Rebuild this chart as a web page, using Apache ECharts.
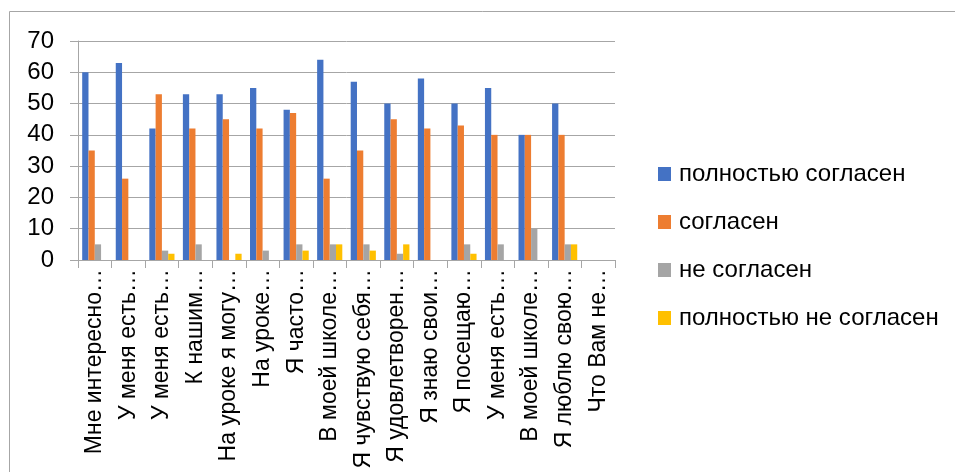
<!DOCTYPE html>
<html><head><meta charset="utf-8">
<script src="https://cdn.jsdelivr.net/npm/echarts@6/dist/echarts.min.js"></script>
<style>html,body{margin:0;padding:0;background:#fff}#c{width:955px;height:472px}</style>
</head><body><div id="c"></div>
<script>
const categories = ["Мне интересно…","У меня есть…","У меня есть…","К нашим…","На уроке я могу…","На уроке…","Я часто…","В моей школе…","Я чувствую себя…","Я удовлетворен…","Я знаю свои…","Я посещаю…","У меня есть…","В моей школе…","Я люблю свою…","Что Вам не…"];
const seriesNames = ["полностью согласен","согласен","не согласен","полностью не согласен"];
const fullyAgree = [60,63,42,53,53,55,48,64,57,50,58,50,55,40,50,0];
const agree = [35,26,53,42,45,42,47,26,35,45,42,43,40,40,40,0];
const disagree = [5,0,3,5,0,3,5,5,5,2,0,5,5,10,5,0];
const fullyDisagree = [0,0,2,0,2,0,3,5,3,5,0,2,0,0,5,0];
const yTicks = {min:0, max:70, interval:10};
const colors = ["#4472C4","#ED7D31","#A5A5A5","#FFC000"];
const values = [fullyAgree, agree, disagree, fullyDisagree];
const font = "Liberation Sans";
const chart = echarts.init(document.getElementById('c'));
chart.setOption({
  animation:false,
  color:colors,
  graphic:[{type:'rect',shape:{x:9.5,y:11.5,width:2000,height:2000},style:{fill:'none',stroke:'#a6a6a6',lineWidth:1}}],
  grid:{left:78,right:340,top:41,bottom:212},
  legend:{orient:'vertical',left:658,top:162,padding:0,itemWidth:13,itemHeight:14,itemGap:24,icon:'rect',
    textStyle:{fontFamily:font,fontSize:24,color:'#000',padding:[0,0,0,3]},
    data:seriesNames},
  xAxis:{type:'category',data:categories,
    axisLine:{lineStyle:{color:'#a6a6a6',width:1}},
    axisTick:{show:true,length:8,lineStyle:{color:'#a6a6a6'}},
    axisLabel:{rotate:90,interval:0,fontFamily:font,fontSize:23,color:'#000',margin:9}},
  yAxis:{type:'value',min:yTicks.min,max:yTicks.max,interval:yTicks.interval,
    axisLine:{show:true,lineStyle:{color:'#a6a6a6',width:1}},
    axisTick:{show:true,length:8,lineStyle:{color:'#a6a6a6'}},
    splitLine:{lineStyle:{color:'#a6a6a6',width:1}},
    axisLabel:{fontFamily:font,fontSize:24,color:'#000',margin:24}},
  series:seriesNames.map((n,i)=>({name:n,type:'bar',data:values[i],barGap:'0%',barCategoryGap:'25%'}))
});
</script></body></html>
